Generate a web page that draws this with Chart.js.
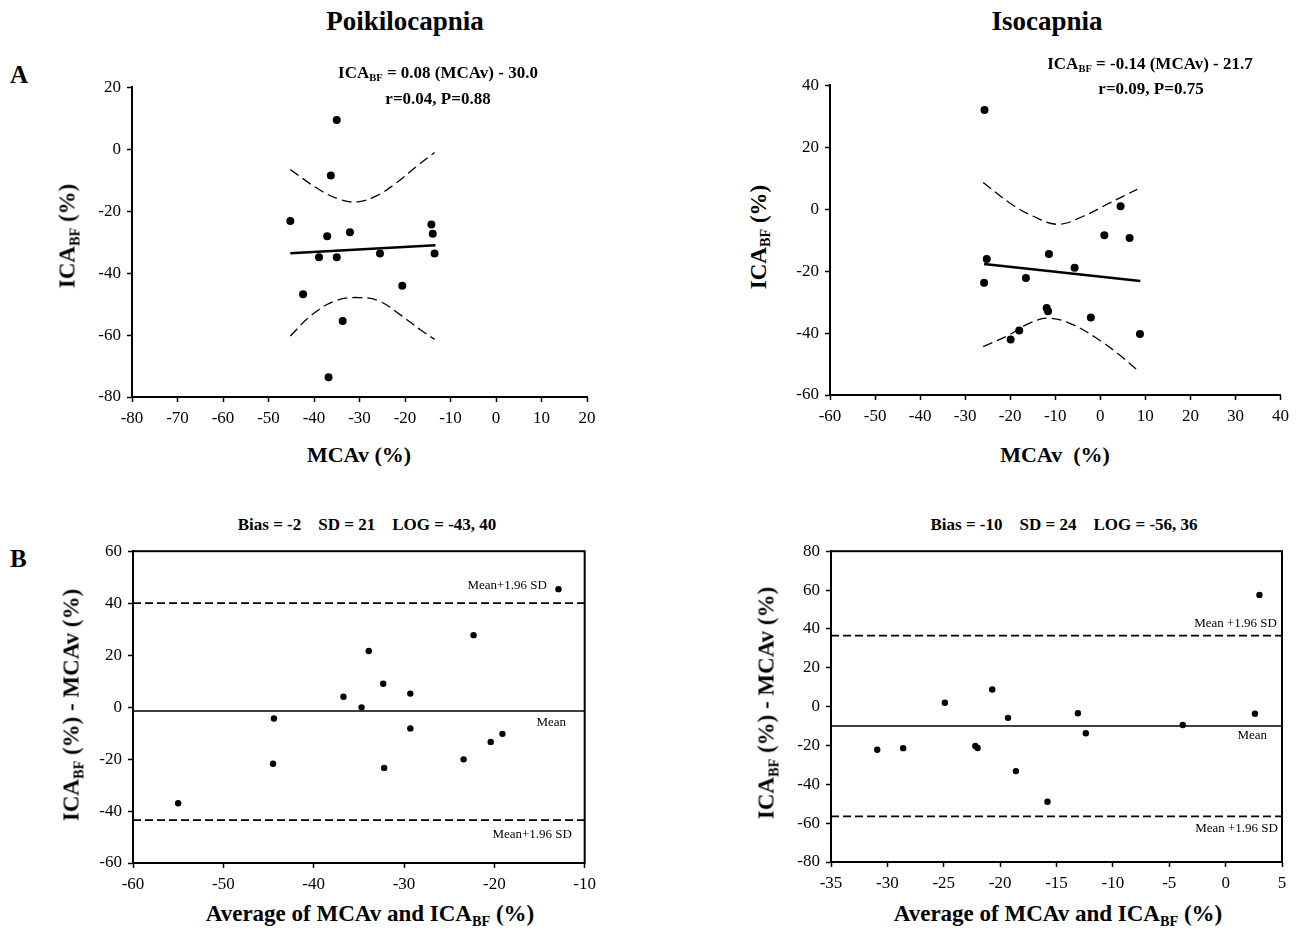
<!DOCTYPE html>
<html>
<head>
<meta charset="utf-8">
<script src="https://cdn.jsdelivr.net/npm/chart.js@4.4.1/dist/chart.umd.min.js"></script>
<style>
  body { margin: 0; background: #fff; }
  #fig { position: relative; width: 1296px; height: 935px; overflow: hidden;
         font-family: "Liberation Serif", "Times New Roman", serif; color: #000; }
  #fig canvas { position: absolute; }
  .t { position: absolute; line-height: 1; white-space: pre; }
  .b { font-weight: bold; }
  .c { transform: translateX(-50%); }
  .r { transform: translateX(-100%); }
  .rot { transform: translate(-50%, -50%) rotate(-90deg); }
  sub { font-size: 0.62em; vertical-align: -0.32em; line-height: 0; }
  .note { font-size: 13px; }
</style>
</head>
<body>
<div id="fig">
  <canvas id="poiki-reg" width="526" height="362" style="left:77px;top:71px"></canvas>
  <canvas id="iso-reg" width="520" height="362" style="left:775px;top:69px"></canvas>
  <canvas id="poiki-ba" width="524" height="364" style="left:78px;top:535px"></canvas>
  <canvas id="iso-ba" width="519" height="363" style="left:776px;top:535px"></canvas>

  <div class="t b c" style="left:405px;top:8px;font-size:27px">Poikilocapnia</div>
  <div class="t b c" style="left:1047px;top:8px;font-size:27px">Isocapnia</div>
  <div class="t b" style="left:10px;top:62px;font-size:25px">A</div>
  <div class="t b" style="left:10px;top:546px;font-size:25px">B</div>

  <div class="t b c" style="left:438px;top:64px;font-size:17px">ICA<sub>BF</sub> = 0.08 (MCAv) - 30.0</div>
  <div class="t b c" style="left:438px;top:90px;font-size:17px">r=0.04, P=0.88</div>
  <div class="t b c" style="left:1150px;top:55px;font-size:17px">ICA<sub>BF</sub> = -0.14 (MCAv) - 21.7</div>
  <div class="t b c" style="left:1151px;top:80px;font-size:17px">r=0.09, P=0.75</div>

  <div class="t b c" style="left:359px;top:444px;font-size:22px">MCAv (%)</div>
  <div class="t b c" style="left:1055px;top:444px;font-size:22px">MCAv  (%)</div>
  <div class="t b rot" style="left:67px;top:236px;font-size:23px">ICA<sub>BF</sub> (%)</div>
  <div class="t b rot" style="left:758px;top:237px;font-size:23px">ICA<sub>BF</sub> (%)</div>

  <div class="t b c" style="left:367px;top:516px;font-size:17px">Bias = -2    SD = 21    LOG = -43, 40</div>
  <div class="t b c" style="left:1064px;top:516px;font-size:17px">Bias = -10    SD = 24    LOG = -56, 36</div>
  <div class="t b c" style="left:370px;top:902px;font-size:23px">Average of MCAv and ICA<sub>BF</sub> (%)</div>
  <div class="t b c" style="left:1058px;top:902px;font-size:23px">Average of MCAv and ICA<sub>BF</sub> (%)</div>
  <div class="t b rot" style="left:71px;top:705px;font-size:23px">ICA<sub>BF</sub> (%) - MCAv (%)</div>
  <div class="t b rot" style="left:766px;top:703px;font-size:23px">ICA<sub>BF</sub> (%) - MCAv (%)</div>

  <div class="t note r" style="left:547px;top:578px">Mean+1.96 SD</div>
  <div class="t note r" style="left:566px;top:715px">Mean</div>
  <div class="t note r" style="left:572px;top:827px">Mean+1.96 SD</div>
  <div class="t note r" style="left:1277px;top:616px">Mean +1.96 SD</div>
  <div class="t note r" style="left:1267px;top:728px">Mean</div>
  <div class="t note r" style="left:1278px;top:821px">Mean +1.96 SD</div>
</div>

<script>
"use strict";

// ----- data: A, regression (poikilocapnia) --------------------------------- //
const poikiMcav = [-45.2, -35.0, -36.3, -37.1, -32.1, -38.9, -35.0, -25.5, -14.2, -13.9, -13.5, -42.4, -20.6, -33.7, -36.8];
const poikiIca  = [-23.2, 9.4, -8.5, -28.1, -26.8, -34.9, -34.9, -33.7, -24.3, -27.3, -33.7, -46.8, -44.1, -55.5, -73.6];
const poikiFitX = [-45.2, -13.3];
const poikiFitY = [-33.6, -31.0];
const poikiUpperX = [-45.2, -38.9, -34.4, -30.4, -26.3, -21.9, -17.4, -13.5];
const poikiUpperY = [-6.6, -13.0, -16.2, -17.0, -15.1, -10.9, -5.5, -1.1];
const poikiLowerX = [-45.2, -40.4, -35.2, -30.0, -25.6, -21.1, -16.7, -13.5];
const poikiLowerY = [-60.3, -53.4, -48.9, -47.9, -49.1, -53.4, -58.2, -61.4];

// ----- data: A, regression (isocapnia) ------------------------------------- //
const isoMcav = [-25.7, -25.2, -25.8, -16.5, -11.4, -5.7, -11.9, -11.6, -2.1, -18.0, -19.9, 8.8, 0.9, 6.5, 4.5];
const isoIca  = [32.0, -16.1, -23.8, -22.2, -14.5, -18.9, -31.9, -33.0, -35.0, -39.2, -42.1, -40.3, -8.4, -9.3, 0.9];
const isoFitX = [-25.8, 8.9];
const isoFitY = [-17.7, -23.2];
const isoUpperX = [-26.0, -20.1, -14.9, -9.4, -3.8, 2.1, 8.2];
const isoUpperY = [8.6, 2.0, -2.3, -4.9, -2.3, 2.0, 6.4];
const isoLowerX = [-26.0, -20.1, -15.7, -11.2, -6.1, -0.9, 3.6, 8.4];
const isoLowerY = [-44.4, -40.5, -36.8, -35.2, -37.3, -41.6, -46.3, -52.2];

// ----- data: B, Bland-Altman ----------------------------------------------- //
const poikiAvg  = [-12.9, -22.3, -33.9, -32.3, -29.3, -36.7, -34.7, -44.4, -29.3, -20.4, -19.1, -23.4, -32.2, -44.5, -55.0];
const poikiDiff = [45.4, 27.7, 21.6, 9.0, 5.2, 4.0, -0.1, -4.4, -8.2, -13.4, -10.3, -20.1, -23.4, -21.8, -37.0];
const poikiBias = -1.5, poikiUpperLoa = 40, poikiLowerLoa = -43.5;

const isoAvg  = [3.0, -20.7, -24.9, -19.3, -13.1, 2.6, -3.8, -12.4, -30.9, -28.6, -22.2, -22.0, -18.6, -15.8];
const isoDiff = [57.5, 8.8, 2.0, -5.8, -3.4, -3.7, -9.5, -13.7, -22.2, -21.4, -20.3, -21.3, -33.2, -49.0];
const isoBias = -10, isoUpperLoa = 36.5, isoLowerLoa = -56.5;

// ----- axis ranges: [min, max, step] --------------------------------------- //
const poikiRegX = [-80, 20, 10], poikiRegY = [-80, 20, 20];
const isoRegX   = [-60, 40, 10], isoRegY   = [-60, 40, 20];
const poikiBaX  = [-60, -10, 10], poikiBaY = [-60, 60, 20];
const isoBaX    = [-35, 5, 5],    isoBaY   = [-80, 80, 20];

Chart.defaults.font.family = '"Liberation Serif", "Times New Roman", serif';
Chart.defaults.color = "#000";

// ----- helpers ------------------------------------------------------------- //
function pairs(xs, ys) {
  return xs.map((x, i) => ({ x, y: ys[i] }));
}

function dots(xs, ys, r) {
  return { data: pairs(xs, ys), pointRadius: r, pointBackgroundColor: "#000",
           pointBorderWidth: 0, showLine: false };
}

function curve(xs, ys, width, dash, tension) {
  return { data: pairs(xs, ys), showLine: true, pointRadius: 0, borderColor: "#000",
           borderWidth: width, borderDash: dash, tension: tension || 0, fill: false };
}

function hline(range, y, width, dash) {
  return curve([range[0], range[1]], [y, y], width, dash);
}

function axis(range, fit) {
  return {
    type: "linear", min: range[0], max: range[1],
    ticks: { stepSize: range[2], color: "#000", font: { size: 17 }, padding: 6,
             autoSkip: false, maxRotation: 0, callback: v => String(v) },
    grid: { display: true, drawOnChartArea: false, drawTicks: true, tickLength: 5,
            tickWidth: 1.5, tickColor: "#000", color: "#000" },
    border: { display: true, color: "#000", width: 2 },
    afterFit: fit,
  };
}

// B panels are framed on all four sides
const boxPlugin = {
  id: "box",
  afterDraw(chart) {
    const a = chart.chartArea, ctx = chart.ctx;
    ctx.save();
    ctx.strokeStyle = "#000";
    ctx.lineWidth = 2;
    ctx.strokeRect(a.left, a.top, a.right - a.left, a.bottom - a.top);
    ctx.restore();
  },
};

function panel(id, xr, yr, datasets, padRight, boxed) {
  new Chart(document.getElementById(id), {
    type: "scatter",
    data: { datasets },
    options: {
      responsive: false, animation: false, devicePixelRatio: 1,
      layout: { padding: { top: 12, right: padRight, left: 0, bottom: 0 } },
      plugins: { legend: { display: false }, tooltip: { enabled: false } },
      scales: {
        x: axis(xr, s => { s.height = 36; }),
        y: axis(yr, s => { s.width = 55; }),
      },
    },
    plugins: boxed ? [boxPlugin] : [],
  });
}

// ----- panels -------------------------------------------------------------- //
panel("poiki-reg", poikiRegX, poikiRegY, [
  dots(poikiMcav, poikiIca, 4),
  curve(poikiFitX, poikiFitY, 2.5),
  curve(poikiUpperX, poikiUpperY, 1.3, [10, 5], 0.4),
  curve(poikiLowerX, poikiLowerY, 1.3, [10, 5], 0.4),
], 16, false);

panel("iso-reg", isoRegX, isoRegY, [
  dots(isoMcav, isoIca, 4),
  curve(isoFitX, isoFitY, 2.5),
  curve(isoUpperX, isoUpperY, 1.3, [10, 5], 0.4),
  curve(isoLowerX, isoLowerY, 1.3, [10, 5], 0.4),
], 14, false);

panel("poiki-ba", poikiBaX, poikiBaY, [
  dots(poikiAvg, poikiDiff, 3.2),
  hline(poikiBaX, poikiBias, 1.6),
  hline(poikiBaX, poikiUpperLoa, 1.8, [8, 4]),
  hline(poikiBaX, poikiLowerLoa, 1.8, [8, 4]),
], 16, true);

panel("iso-ba", isoBaX, isoBaY, [
  dots(isoAvg, isoDiff, 3.2),
  hline(isoBaX, isoBias, 1.6),
  hline(isoBaX, isoUpperLoa, 1.8, [8, 4]),
  hline(isoBaX, isoLowerLoa, 1.8, [8, 4]),
], 13, true);
</script>
</body>
</html>
